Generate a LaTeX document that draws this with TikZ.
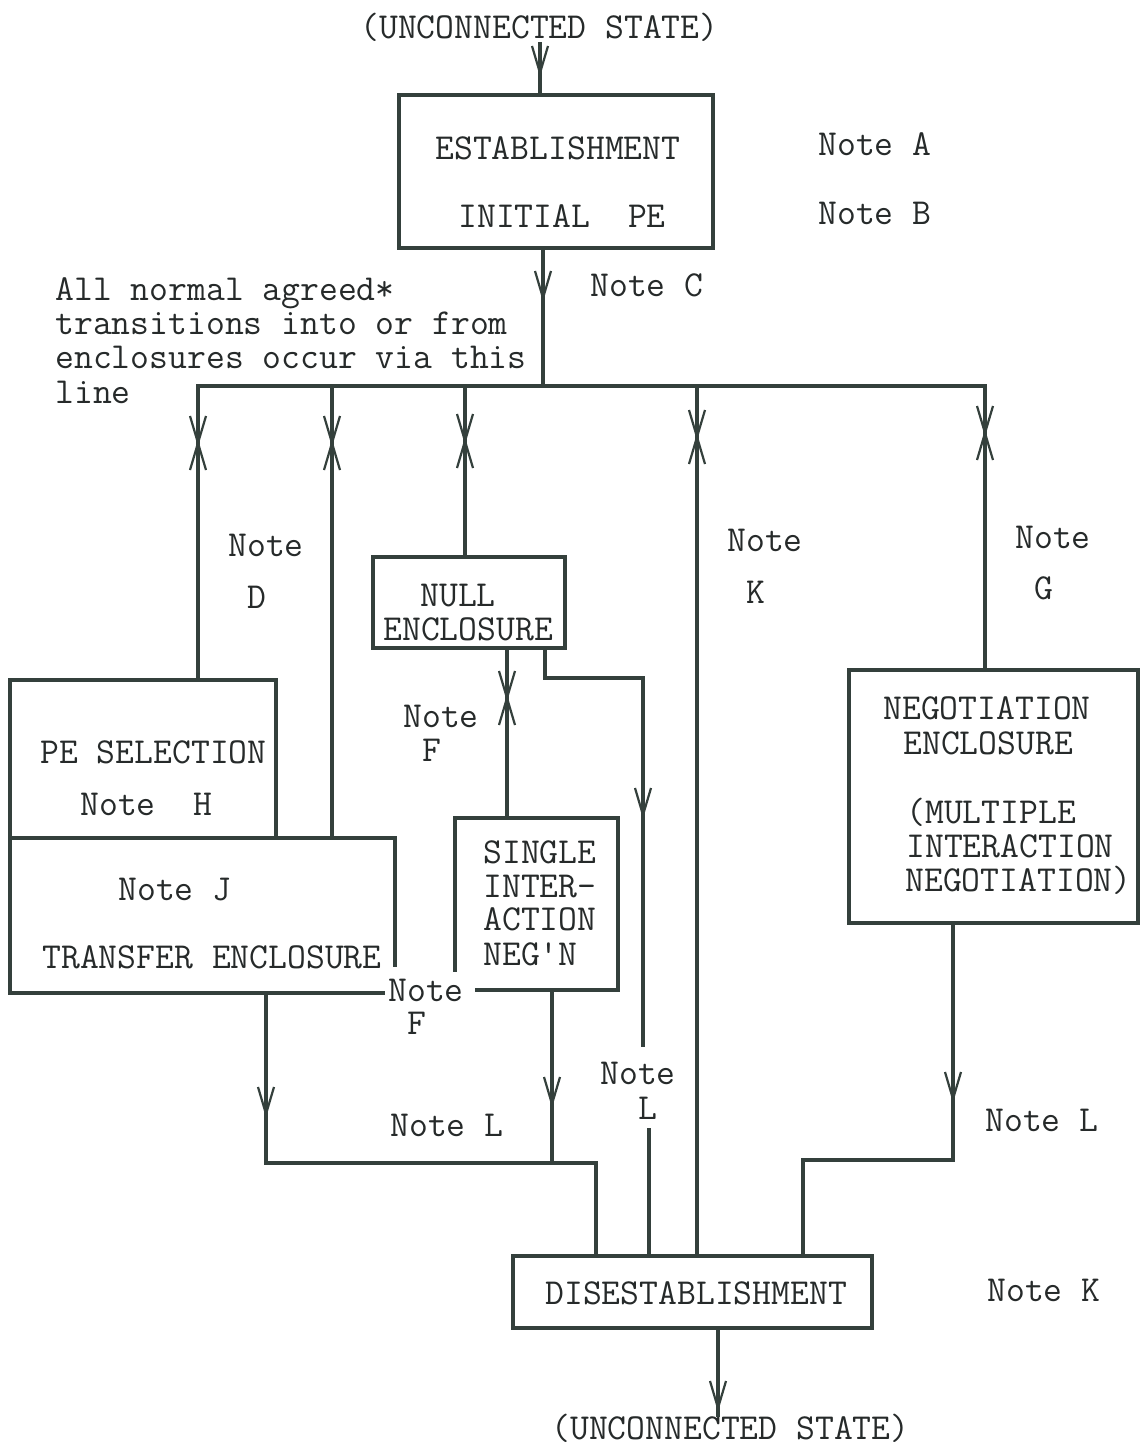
\documentclass[tikz,border=0pt]{standalone}
\usepackage{fontspec}
\definecolor{lc}{RGB}{52,64,60}
\definecolor{tc}{RGB}{38,42,42}
\begin{document}
\begin{tikzpicture}[x=0.5pt,y=-0.5pt]
\tikzset{
  ln/.style={line width=2pt, draw=lc, line join=miter, line cap=rect},
  box/.style={ln, rectangle, inner sep=0pt, outer sep=0pt},
  chev/.style={line width=1.1pt, draw=lc},
  txt/.style={font=\fontsize{18.3pt}{17pt}\selectfont\ttfamily, text=tc, inner sep=0pt, anchor=base west},
  vdn/.pic={\draw[chev] (-8,-27)--(0,0)--(8,-27);},
  vup/.pic={\draw[chev] (-8,27)--(0,0)--(8,27);},
}
\useasboundingbox[fill=white] (0,0) rectangle (1140,1446);

% ---------- boxes ----------
\node[box, minimum width=157pt, minimum height=76.5pt] (est) at (556,171.5) {};
\node[box, minimum width=96pt, minimum height=45.5pt] (null) at (469,602.5) {};
\node[box, minimum width=133pt, minimum height=79pt] (pesel) at (143,759) {};
\node[box, minimum width=144.5pt, minimum height=126.5pt] (neg) at (993.5,796.5) {};
\node[box, minimum width=179.5pt, minimum height=36pt] (dis) at (692.5,1292) {};
% transfer enclosure (open at bottom right for Note F)
\draw[ln] (395,965) -- (395,838) -- (10,838) -- (10,993) -- (383,993);
% single interaction box
\draw[ln] (455,970) -- (455,818) -- (618,818) -- (618,990) -- (477,990);

% ---------- texts ----------
\node[txt] (top) at (360,38) {(UNCONNECTED STATE)};
\node[txt] (t1) at (435,159) {ESTABLISHMENT};
\node[txt] (t2) at (458,227) {INITIAL\ \ PE};
\node[txt] (nA) at (818,155) {Note A};
\node[txt] (nB) at (818,224) {Note B};
\node[txt] (nC) at (590,296) {Note C};
\node[txt] (l1) at (55,300) {All normal agreed*};
\node[txt] (l2) at (55,334) {transitions into or from};
\node[txt] (l3) at (55,368) {enclosures occur via this};
\node[txt] (l4) at (55,403) {line};
\node[txt] (nD1) at (228,556) {Note};
\node[txt] (nD2) at (247,608) {D};
\node[txt] (nK1) at (727,551) {Note};
\node[txt] (nK2) at (746,603) {K};
\node[txt] (nG1) at (1015,548) {Note};
\node[txt] (nG2) at (1034,599) {G};
\node[txt] (nu1) at (420,606) {NULL};
\node[txt] (nu2) at (383,640) {ENCLOSURE};
\node[txt] (nF1) at (403,727) {Note};
\node[txt] (nF2) at (422,761) {F};
\node[txt] (ps1) at (40,763) {PE SELECTION};
\node[txt] (ps2) at (80,815) {Note\ \ H};
\node[txt] (tr1) at (118,900) {Note J};
\node[txt] (tr2) at (42,968) {TRANSFER ENCLOSURE};
\node[txt] (s1) at (483,863) {SINGLE};
\node[txt] (s2) at (483,897) {INTER-};
\node[txt] (s3) at (483,930) {ACTION};
\node[txt] (s4) at (483,965) {NEG\textquotesingle N};
\node[txt] (ng1) at (883,719) {NEGOTIATION};
\node[txt] (ng2) at (903,754) {ENCLOSURE};
\node[txt] (ng3) at (906,823) {(MULTIPLE};
\node[txt] (ng4) at (906,857) {INTERACTION};
\node[txt] (ng5) at (905,891) {NEGOTIATION)};
\node[txt] (nF3) at (388,1001) {Note};
\node[txt] (nF4) at (407,1034) {F};
\node[txt] (nL1) at (600,1084) {Note};
\node[txt] (nL2) at (638,1119) {L};
\node[txt] (nL3) at (390,1136) {Note L};
\node[txt] (nL4) at (985,1131) {Note L};
\node[txt] (di) at (545,1304) {DISESTABLISHMENT};
\node[txt] (nK3) at (987,1301) {Note K};
\node[txt] (bot) at (551,1439) {(UNCONNECTED STATE)};

% ---------- coordinates ----------
\coordinate (inTop) at (540,44);
\coordinate (busC) at (543,386);
\coordinate (d1) at (198,386);
\coordinate (d2) at (332,386);
\coordinate (d3) at (465,386);
\coordinate (d4) at (697,386);
\coordinate (d5) at (985,386);
\coordinate (trT) at (332,838);
\coordinate (sgT) at (507,818);
\coordinate (nuA) at (545,648);
\coordinate (nuB) at (545,678);
\coordinate (nuC) at (643,678);
\coordinate (nuD) at (643,1045);
\coordinate (nuE) at (649,1130);
\coordinate (trB) at (266,993);
\coordinate (trJ) at (266,1163);
\coordinate (sgB) at (552,990);
\coordinate (sgJ) at (552,1163);
\coordinate (jL) at (596,1163);
\coordinate (ngB) at (953,923);
\coordinate (ngJ) at (953,1160);
\coordinate (jR) at (803,1160);
\coordinate (disB) at (718,1328);
\coordinate (outB) at (718,1415);

% ---------- connectors ----------
\draw[ln] (inTop) -- (inTop |- est.north);
\draw[ln] (est.south -| busC) -- (busC);
\draw[ln] (d1) -- (d5);
\draw[ln] (d1) -- (d1 |- pesel.north);
\draw[ln] (d2) -- (trT);
\draw[ln] (d3) -- (d3 |- null.north);
\draw[ln] (d4) -- (d4 |- dis.north);
\draw[ln] (d5) -- (d5 |- neg.north);
\draw[ln] (null.south -| sgT) -- (sgT);
\draw[ln] (nuA) -- (nuB) -- (nuC) -- (nuD);
\draw[ln] (nuE) -- (nuE |- dis.north);
\draw[ln] (trB) -- (trJ) -- (jL) -- (jL |- dis.north);
\draw[ln] (sgB) -- (sgJ);
\draw[ln] (ngB) -- (ngJ) -- (jR) -- (jR |- dis.north);
\draw[ln] (disB) -- (outB);

% ---------- chevrons ----------
\pic at (540,73) {vdn};
\pic at (543,298) {vdn};
\pic at (198,443) {vdn}; \pic at (198,443) {vup};
\pic at (332,443) {vdn}; \pic at (332,443) {vup};
\pic at (465,441) {vdn}; \pic at (465,441) {vup};
\pic at (697,437) {vdn}; \pic at (697,437) {vup};
\pic at (985,433) {vdn}; \pic at (985,433) {vup};
\pic at (507,698) {vdn}; \pic at (507,698) {vup};
\pic at (643,815) {vdn};
\pic at (266,1114) {vdn};
\pic at (552,1104) {vdn};
\pic at (953,1099) {vdn};
\pic at (718,1408) {vdn};
\end{tikzpicture}
\end{document}
